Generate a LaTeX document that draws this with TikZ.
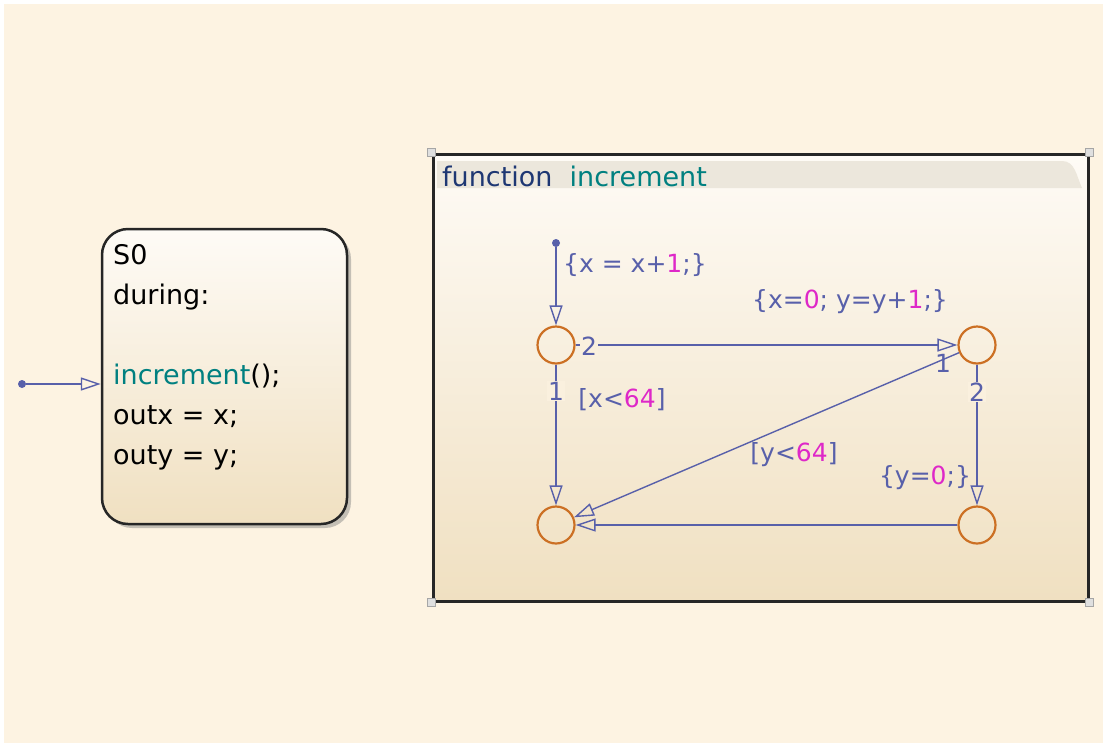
\documentclass[tikz,border=0pt]{standalone}
\usepackage{fontspec}
\setmainfont{DejaVu Sans}
\usepackage{xcolor}
\usetikzlibrary{arrows.meta,positioning,calc,shadows}
\definecolor{chartbg}{RGB}{253,243,226}
\definecolor{statetop}{RGB}{254,251,246}
\definecolor{statebot}{RGB}{240,224,193}
\definecolor{fnmid}{RGB}{250,240,222}
\definecolor{transblue}{RGB}{88,96,170}
\definecolor{junctorange}{RGB}{204,112,36}
\definecolor{fnteal}{RGB}{0,128,128}
\definecolor{fnnavy}{RGB}{30,55,115}
\definecolor{nummagenta}{RGB}{222,40,200}
\definecolor{hdrgray}{RGB}{236,231,220}
\newcommand{\magnum}[1]{\textcolor{nummagenta}{#1}}

\begin{document}
\begin{tikzpicture}[x=1pt, y=-1pt,
    chartfont/.style={font=\fontsize{27}{40}\selectfont},
    transfont/.style={font=\fontsize{25}{30}\selectfont},
    statebox/.style={rectangle, rounded corners=26pt, draw=black!85, line width=2.5pt,
                     top color=statetop, bottom color=statebot,
                     minimum width=245pt, minimum height=295pt,
                     drop shadow={opacity=0.45, shadow xshift=4pt, shadow yshift=-4pt}},
    fnbox/.style={rectangle, draw=black!85, line width=3pt,
                  top color=statetop, bottom color=statebot,
                  minimum width=655pt, minimum height=447pt},
    handle/.style={fill=gray!25, draw=gray!70, line width=0.8pt},
    junct/.style={circle, draw=junctorange, line width=2.2pt, minimum size=37pt, inner sep=0pt},
    entrydot/.style={circle, fill=transblue, minimum size=8pt, inner sep=0pt},
    trans/.style={draw=transblue, line width=1.4pt, -{Triangle[open, length=20pt, width=13pt]}},
    tlabel/.style={transfont, text=transblue, inner sep=1pt},
    numlbl/.style={transfont, text=transblue, fill=fnmid, inner sep=1pt}
]
\useasboundingbox (0,0) rectangle (1107,747);
\fill[white] (0,0) rectangle (1107,747);
\fill[chartbg] (4,4) rectangle (1103,743);

% state S0
\node[statebox] (s0) at (224.5,376.5) {};
\node[chartfont, anchor=north west, align=left, inner sep=0pt] (s0text) at (113,244)
  {S0\\during:\\[40pt]\textcolor{fnteal}{increment}();\\outx = x;\\outy = y;};
\node[entrydot] (s0entry) at (22,384) {};
\draw[trans] (s0entry) -- (s0entry -| s0.west);

% graphical function
\node[fnbox] (fn) at (760.5,377.5) {};
\fill[hdrgray] (437,188) -- (437,161) -- (1062,161) to[out=0, in=115] (1082,188) -- cycle;
\node[chartfont, anchor=west, inner sep=0pt] (fntitle) at (442,176)
  {\textcolor{fnnavy}{function}\ \ \textcolor{fnteal}{increment}};
\foreach \c in {north west, north east, south west, south east}
  \draw[handle] ($(fn.\c)+(-4,-4)$) rectangle ++(8,8);

% junctions
\node[junct] (ja) at (556,345) {};
\node[junct] (jb) at (977,345) {};
\node[junct] (jc) at (556,525) {};
\node[junct] (jd) at (977,525) {};
\node[entrydot] (fnentry) at (556,243) {};

% transitions
\draw[trans] (fnentry) -- (ja);
\draw[trans] (ja) -- (jb);
\draw[trans] (ja) -- (jc);
\draw[trans] (jb) -- (jc);
\draw[trans] (jb) -- (jd);
\draw[trans] (jd) -- (jc);

% labels
\node[tlabel, anchor=west] (l1) at (562,265) {\{x = x+\magnum{1};\}};
\node[tlabel] (l2) at (850,302) {\{x=\magnum{0}; y=y+\magnum{1};\}};
\node[tlabel] (l3) at (622,400) {[x<\magnum{64}]};
\node[tlabel] (l4) at (794,455) {[y<\magnum{64}]};
\node[tlabel] (l5) at (925,478) {\{y=\magnum{0};\}};
\node[numlbl] (n1) at (589,346) {2};
\node[numlbl] (n2) at (556,391) {1};
\node[tlabel] (n3) at (943,363) {1};
\node[numlbl] (n4) at (977,392) {2};
\end{tikzpicture}
\end{document}
